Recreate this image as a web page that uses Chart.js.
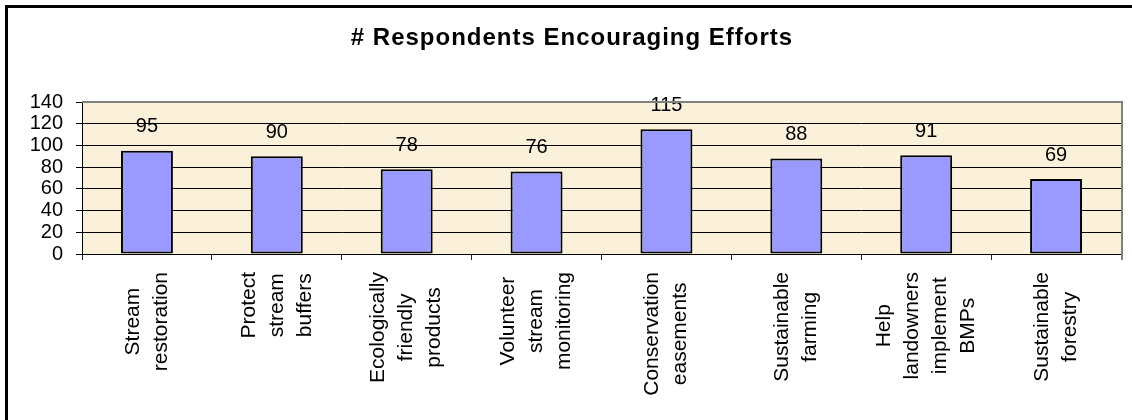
<!DOCTYPE html>
<html>
<head>
<meta charset="utf-8">
<script src="https://cdn.jsdelivr.net/npm/chart.js@4/dist/chart.umd.min.js"></script>
<style>
  html, body { margin: 0; padding: 0; background: #ffffff; }
  #wrap { width: 1132px; height: 420px; position: relative; }
</style>
</head>
<body>
<div id="wrap"><canvas id="c" width="1132" height="420"></canvas></div>
<script>
// Survey efforts (category names split into the lines they are printed on)
const categories = [
  ['Stream', 'restoration'],
  ['Protect', 'stream', 'buffers'],
  ['Ecologically', 'friendly', 'products'],
  ['Volunteer', 'stream', 'monitoring'],
  ['Conservation', 'easements'],
  ['Sustainable', 'farming'],
  ['Help', 'landowners', 'implement', 'BMPs'],
  ['Sustainable', 'forestry']
];
// Number of respondents encouraging each effort
const respondents = [95, 90, 78, 76, 115, 88, 91, 69];
// Value axis tick labels
const yTicks = [0, 20, 40, 60, 80, 100, 120, 140];
const chartTitle = '# Respondents Encouraging Efforts';

const FONT = '"Liberation Sans", Arial, Helvetica, sans-serif';

// Page + plot area fills
const backgroundPlugin = {
  id: 'backgroundFill',
  beforeDraw(chart) {
    const { ctx, chartArea: a } = chart;
    ctx.save();
    ctx.fillStyle = '#ffffff';
    ctx.fillRect(0, 0, chart.width, chart.height);
    ctx.fillStyle = '#FBF0DA';
    ctx.fillRect(a.left, a.top, a.right - a.left, a.bottom - a.top);
    ctx.restore();
  }
};

// Value labels above each bar
const valueLabelPlugin = {
  id: 'valueLabels',
  afterDatasetsDraw(chart) {
    const { ctx } = chart;
    const meta = chart.getDatasetMeta(0);
    ctx.save();
    ctx.font = '20px ' + FONT;
    ctx.fillStyle = '#000';
    ctx.textAlign = 'center';
    ctx.textBaseline = 'middle';
    meta.data.forEach((bar, i) => {
      ctx.fillText(String(chart.data.datasets[0].data[i]), bar.x, bar.y - 24);
    });
    ctx.restore();
  }
};

// Rotated, centred multi-line category labels
const categoryLabelPlugin = {
  id: 'categoryLabels',
  afterDraw(chart) {
    const { ctx } = chart;
    const x = chart.scales.x;
    const lineGap = 28;
    ctx.save();
    ctx.font = '21px ' + FONT;
    ctx.fillStyle = '#000';
    ctx.textAlign = 'center';
    ctx.textBaseline = 'middle';
    categories.forEach((lines, i) => {
      const cx = x.getPixelForValue(i);
      const maxW = Math.max(...lines.map(l => ctx.measureText(l).width));
      const cy = x.top + 18 + maxW / 2;
      lines.forEach((line, j) => {
        const lx = cx + (j - (lines.length - 1) / 2) * lineGap;
        ctx.save();
        ctx.translate(lx, cy);
        ctx.rotate(-Math.PI / 2);
        ctx.fillText(line, 0, 0);
        ctx.restore();
      });
    });
    ctx.restore();
  }
};

// Title, outer frame and plot-area edges
const framePlugin = {
  id: 'frame',
  afterDraw(chart) {
    const { ctx, chartArea: a } = chart;
    ctx.save();
    // plot area top and right edges
    ctx.strokeStyle = '#808080';
    ctx.lineWidth = 2;
    ctx.beginPath();
    ctx.moveTo(a.left, a.top);
    ctx.lineTo(a.right + 1, a.top);
    ctx.lineTo(a.right + 1, a.bottom + 6);
    ctx.stroke();
    // outer chart frame
    ctx.strokeStyle = '#000';
    ctx.lineWidth = 3;
    ctx.strokeRect(6.5, 6.5, chart.width + 20, chart.height + 20);
    // title
    ctx.fillStyle = '#000';
    ctx.font = 'bold 24px ' + FONT;
    ctx.textAlign = 'center';
    ctx.textBaseline = 'alphabetic';
    if ('letterSpacing' in ctx) ctx.letterSpacing = '1px';
    ctx.fillText(chartTitle, 572, 45);
    ctx.restore();
  }
};

new Chart(document.getElementById('c'), {
  type: 'bar',
  data: {
    labels: categories.map(l => l.join(' ')),
    datasets: [{
      data: respondents,
      backgroundColor: '#9999FF',
      borderColor: '#000000',
      borderWidth: 2,
      borderSkipped: false,
      categoryPercentage: 1.0,
      barPercentage: 0.4
    }]
  },
  options: {
    responsive: false,
    animation: false,
    devicePixelRatio: 1,
    layout: { padding: { top: 102, right: 11, left: 0, bottom: 0 } },
    plugins: {
      legend: { display: false },
      title: { display: false },
      tooltip: { enabled: false }
    },
    scales: {
      x: {
        offset: true,
        grid: {
          offset: true,
          drawOnChartArea: false,
          drawTicks: true,
          tickLength: 6,
          color: '#222'
        },
        border: { color: '#000', width: 1 },
        ticks: { display: false },
        afterFit(scale) { scale.height = 166; }
      },
      y: {
        min: 0,
        max: 140,
        afterBuildTicks(scale) { scale.ticks = yTicks.map(v => ({ value: v })); },
        grid: {
          color: c => (c.tick && c.tick.value === 140 ? '#808080' : '#000'),
          tickColor: '#000',
          tickLength: 6,
          lineWidth: 1
        },
        border: { color: '#000', width: 1 },
        ticks: {
          color: '#000',
          autoSkip: false,
          font: { family: FONT, size: 20, lineHeight: 1 },
          padding: 13
        },
        afterFit(scale) { scale.width = 82; }
      }
    }
  },
  plugins: [backgroundPlugin, valueLabelPlugin, categoryLabelPlugin, framePlugin]
});
</script>
</body>
</html>
